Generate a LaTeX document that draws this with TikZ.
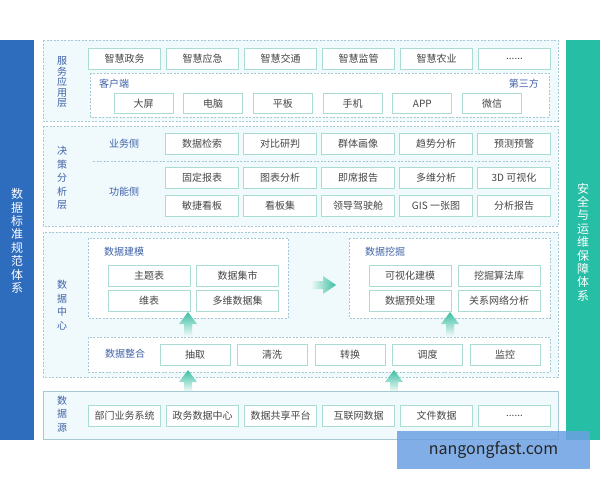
\documentclass[tikz,border=0pt]{standalone}
\usepackage{fontspec}
\setmainfont{Noto Sans CJK SC}
\usetikzlibrary{positioning,calc}
\definecolor{stdblue}{RGB}{46,108,190}
\definecolor{safeteal}{RGB}{38,190,165}
\definecolor{layerfill}{RGB}{240,249,251}
\definecolor{layerline}{RGB}{166,200,212}
\definecolor{cellline}{RGB}{170,220,212}
\definecolor{labelblue}{RGB}{63,98,168}
\definecolor{celltext}{RGB}{70,70,70}
\definecolor{flowteal}{RGB}{58,190,162}
\definecolor{markblue}{RGB}{108,160,226}
\newcommand{\moredots}{......}
\tikzset{
  cell/.style={draw=cellline, fill=white, line width=0.9pt, minimum height=21pt,
    inner sep=0pt, text=celltext, font=\fontsize{10}{12}\selectfont},
  layer/.style={draw=layerline, fill=layerfill, line width=0.6pt, dash pattern=on 2pt off 1.5pt},
  group/.style={draw=layerline, fill=white, line width=0.6pt, dash pattern=on 2pt off 1.5pt},
  tag/.style={text=labelblue, inner sep=0pt, font=\fontsize{10}{12}\selectfont},
  vtag/.style={text=labelblue, align=center, inner sep=0pt, font=\fontsize{10}{13.5}\selectfont},
  sidetag/.style={text=white, align=center, inner sep=0pt, font=\fontsize{12}{13.4}\selectfont},
}

\begin{document}
\begin{tikzpicture}[x=1pt, y=-1pt]
    \useasboundingbox[fill=white] (0,0) rectangle (600,480);
    % Side bars
    \fill[stdblue] (0,40) rectangle (34,440);
    \fill[safeteal] (566,40) rectangle (600,440);
    \node[sidetag] (std) at (17,241) {数\\据\\标\\准\\规\\范\\体\\系};
    \node[sidetag] (safe) at (583,242) {安\\全\\与\\运\\维\\保\\障\\体\\系};

    % Service layer
    \draw[layer] (43,40) rectangle (558,121);
    \node[vtag, font=\fontsize{10}{10.5}\selectfont] (lapp) at (62,82) {服\\务\\应\\用\\层};
    \foreach \t [count=\i] in {智慧政务,智慧应急,智慧交通,智慧监管,智慧农业,\moredots}
      \node[cell, minimum width=72.5pt] (app\i) at ({124.5+78*(\i-1)},58.5) {\t};
    \draw[group] (90,73) rectangle (549,117);
    \node[tag, anchor=west] (client) at (99,83.5) {客户端};
    \node[tag, anchor=east] (third) at (539,83.5) {第三方};
    \foreach \t [count=\i] in {大屏,电脑,平板,手机,APP,微信}
      \node[cell, minimum width=59pt, minimum height=20pt] (dev\i) at ({143.5+69.7*(\i-1)},103.5) {\t};

    % Decision layer
    \draw[layer] (43,126) rectangle (558,226);
    \node[vtag] (ldec) at (62,178) {决\\策\\分\\析\\层};
    \node[tag] (biz) at (124,143.5) {业务侧};
    \node[tag] (func) at (124,192) {功能侧};
    \draw[layerline, line width=0.6pt, dash pattern=on 2pt off 1.5pt] (93,161) -- (550,161);
    \foreach \t [count=\i] in {数据检索,对比研判,群体画像,趋势分析,预测预警}
      \node[cell, minimum width=72.5pt] (biz\i) at ({202+78*(\i-1)},143.5) {\t};
    \foreach \t [count=\i] in {固定报表,图表分析,即席报告,多维分析,3D 可视化}
      \node[cell, minimum width=72.5pt] (fa\i) at ({202+78*(\i-1)},177.5) {\t};
    \foreach \t [count=\i] in {敏捷看板,看板集,领导驾驶舱,GIS 一张图,分析报告}
      \node[cell, minimum width=72.5pt] (fb\i) at ({202+78*(\i-1)},205.5) {\t};

    % Data center layer
    \draw[layer] (43,232) rectangle (558,377);
    \node[vtag] (lcen) at (62,305) {数\\据\\中\\心};
    \draw[group] (88,238) rectangle (288,318);
    \node[tag, anchor=west] (model) at (104,252) {数据建模};
    \node[cell, minimum width=82pt] (m1) at (149,276) {主题表};
    \node[cell, minimum width=82pt] (m2) at (237.5,276) {数据集市};
    \node[cell, minimum width=82pt] (m3) at (149,301) {维表};
    \node[cell, minimum width=82pt] (m4) at (237.5,301) {多维数据集};
    \draw[group] (349,238) rectangle (550,318);
    \node[tag, anchor=west] (mine) at (365,252) {数据挖掘};
    \node[cell, minimum width=82pt] (d1) at (410,276) {可视化建模};
    \node[cell, minimum width=82pt] (d2) at (499,276) {挖掘算法库};
    \node[cell, minimum width=82pt] (d3) at (410,301) {数据预处理};
    \node[cell, minimum width=82pt] (d4) at (499,301) {关系网络分析};
    \draw[group] (88,337) rectangle (550,372);
    \node[tag] (merge) at (125,354) {数据整合};
    \foreach \t/\x [count=\i] in {抽取/195,清洗/272,转换/350,调度/427.5,监控/505}
      \node[cell, minimum width=70pt] (g\i) at (\x,354.5) {\t};

    % Flow arrows
    \foreach \x in {188,450}
      \shade[top color=flowteal, bottom color=flowteal!8]
        (\x,312) -- ({\x+9},324) -- ({\x+4},324) -- ({\x+4},336)
        -- ({\x-4},336) -- ({\x-4},324) -- ({\x-9},324) -- cycle;
    \foreach \x in {188,394}
      \shade[top color=flowteal, bottom color=flowteal!8]
        (\x,370) -- ({\x+9},382) -- ({\x+4},382) -- ({\x+4},391)
        -- ({\x-4},391) -- ({\x-4},382) -- ({\x-9},382) -- cycle;
    \shade[right color=flowteal, left color=flowteal!8]
      (336,285) -- (323,276) -- (323,281) -- (311,281)
      -- (311,289) -- (323,289) -- (323,294) -- cycle;

    % Source layer
    \draw[draw=layerline, fill=layerfill, line width=0.7pt] (43,391) rectangle (558,439);
    \node[vtag] (lsrc) at (62,414) {数\\据\\源};
    \foreach \t [count=\i] in {部门业务系统,政务数据中心,数据共享平台,互联网数据,文件数据,\moredots}
      \node[cell, minimum width=72.5pt] (src\i) at ({124.5+78*(\i-1)},415.5) {\t};

    % Watermark
    \fill[markblue, fill opacity=0.85] (397,431) rectangle (590,469);
    \node[text=black!85, font=\fontsize{16}{18}\selectfont] (mark) at (493.5,450) {nangongfast.com};
\end{tikzpicture}
\end{document}
